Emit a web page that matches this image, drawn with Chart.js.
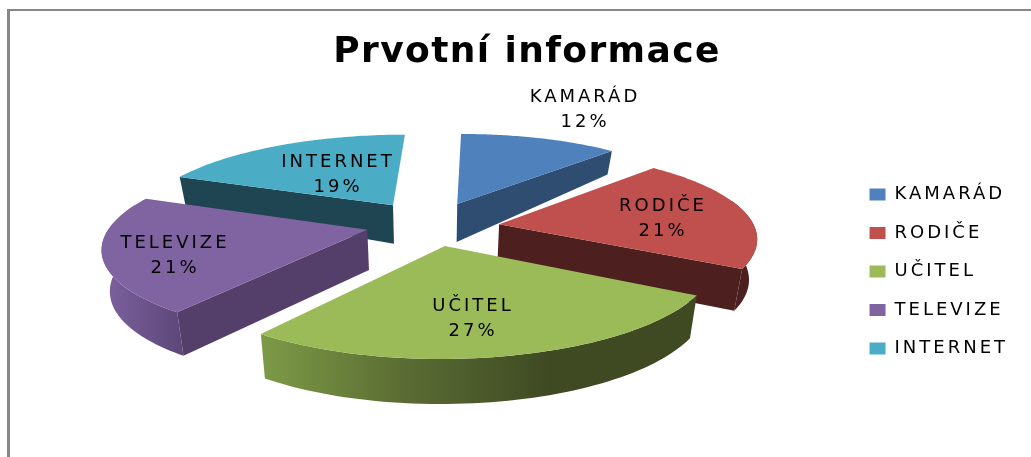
<!DOCTYPE html>
<html lang="cs">
<head>
  <meta charset="UTF-8">
  <title>Prvotní informace</title>
  <script src="https://cdn.jsdelivr.net/npm/chart.js"></script>
  <style>
    html, body { margin: 0; padding: 0; background: #fff; }
    .wrap { position: relative; width: 1031px; height: 457px; overflow: hidden; }
    .frame { position: absolute; left: 7px; top: 9px; right: -5px; bottom: -5px; border: 3px solid #878787; border-top-width: 2px; }
    canvas { position: absolute; left: 0; top: 0; }
  </style>
</head>
<body>
  <div class="wrap">
    <div class="frame"></div>
    <canvas id="pieChart" width="1031" height="457"></canvas>
  </div>

  <script>
    const titleText = 'Prvotní informace';
    const categories = ['KAMARÁD', 'RODIČE', 'UČITEL', 'TELEVIZE', 'INTERNET'];
    const shares = [12, 21, 27, 21, 19];

    const faceColors = ['#4f81bd', '#c0504d', '#9bbb59', '#8064a2', '#4bacc6'];
    const wallColors = ['#2f4d71', '#4d1f1e', '#3f4a23', '#533f6a', '#1e4551'];
    // rim shading left to right, only the two slices that show a gradient differ
    const rimStops = [
      ['#2f4d71', '#2f4d71'],
      ['#4d1f1e', '#4d1f1e'],
      ['#7c9946', '#5a6c33', '#3f4a23', '#3f4a23'],
      ['#7a5f9b', '#5c4778'],
      ['#1e4551', '#1e4551']
    ];
    // centre of each data label on the page
    const labelX = [585, 663, 473, 175, 338];
    const labelY = [97, 206, 306, 243, 162];
    // small nudges per slice, the source view is not a clean projection
    const nudgeX = [0, 0, 0, 4, -2];
    const nudgeY = [1, 4, -2, -1, 0];

    // the tilted view
    const view = { cx: 431, cy: 224, r: 256, k: 87, d: 6.4, skew: 7, shrink: 0.975, explode: 0.27 };

    function wallDepth(v) {
      return v < -0.2 ? 39 + (v + 0.2) * 20 : 40 + 4 * v;
    }

    function project(u, v, low) {
      const f = view.d / (view.d - v);
      const x = view.cx + u * view.r * f;
      return {
        x: view.cx + (x - view.cx) * (low ? view.shrink : 1) - view.skew * v,
        y: view.cy + v * view.k * f + (low ? wallDepth(v) : 0)
      };
    }

    function pathOf(ctx, pts, dx, dy) {
      ctx.beginPath();
      pts.forEach((p, i) => i ? ctx.lineTo(p.x + dx, p.y + dy) : ctx.moveTo(p.x + dx, p.y + dy));
      ctx.closePath();
    }

    function spaceText(box, ctx, px) {
      const draw = box.draw;
      box.draw = function () {
        ctx.letterSpacing = px;
        draw.call(box);
        ctx.letterSpacing = '0px';
      };
    }

    // uses the angles Chart.js worked out for each arc
    const tiltedPie = {
      id: 'tiltedPie',
      beforeLayout(chart) {
        // so the legend box is measured with the spaced text
        chart.ctx.letterSpacing = '3px';
      },
      afterLayout(chart) {
        chart.ctx.letterSpacing = '0px';
      },
      beforeDatasetDraw(chart, args) {
        const ctx = chart.ctx;
        const arcs = chart.getDatasetMeta(args.index).data.map((arc, i) => {
          const { startAngle, endAngle } = arc.getProps(['startAngle', 'endAngle']);
          return { i, startAngle, endAngle, mid: (startAngle + endAngle) / 2 };
        });
        arcs.sort((a, b) => Math.sin(a.mid) - Math.sin(b.mid));

        arcs.forEach(a => {
          const dx = nudgeX[a.i], dy = nudgeY[a.i];
          const ou = Math.cos(a.mid) * view.explode;
          const ov = Math.sin(a.mid) * view.explode;
          const rimTop = [], rimLow = [], top = [];
          const steps = 60;
          for (let s = 0; s <= steps; s++) {
            const t = a.startAngle + (a.endAngle - a.startAngle) * s / steps;
            const u = ou + Math.cos(t), v = ov + Math.sin(t);
            top.push(project(u, v, false));
            // a bit past the widest point so the rim closes under the face
            if (Math.sin(t) > -0.3) {
              rimTop.push(project(u, v, false));
              rimLow.push(project(u, v, true));
            }
          }
          const apexTop = project(ou, ov, false);
          const apexLow = project(ou, ov, true);

          // radial walls that face the viewer
          ctx.fillStyle = wallColors[a.i];
          if (Math.cos(a.startAngle) < -0.001) {
            const u = ou + Math.cos(a.startAngle), v = ov + Math.sin(a.startAngle);
            pathOf(ctx, [apexTop, project(u, v, false), project(u, v, true), apexLow], dx, dy);
            ctx.fill();
          }
          if (Math.cos(a.endAngle) > 0.001) {
            const u = ou + Math.cos(a.endAngle), v = ov + Math.sin(a.endAngle);
            pathOf(ctx, [apexTop, project(u, v, false), project(u, v, true), apexLow], dx, dy);
            ctx.fill();
          }

          // outer rim, the two back slices do not show one
          if (rimTop.length > 1 && a.i !== 0 && a.i !== 4) {
            const xs = rimLow.map(p => p.x + dx);
            const grad = ctx.createLinearGradient(Math.min(...xs), 0, Math.max(...xs), 0);
            const stops = rimStops[a.i];
            stops.forEach((c, n) => grad.addColorStop(n / (stops.length - 1), c));
            ctx.fillStyle = grad;
            pathOf(ctx, rimTop.concat(rimLow.slice().reverse()), dx, dy);
            ctx.fill();
          }

          // top face
          ctx.fillStyle = faceColors[a.i];
          pathOf(ctx, [apexTop].concat(top), dx, dy);
          ctx.fill();
        });
        return false;
      },
      afterDatasetsDraw(chart) {
        const ctx = chart.ctx;
        ctx.save();
        ctx.font = '18px "DejaVu Sans"';
        ctx.letterSpacing = '3px';
        ctx.fillStyle = '#000';
        ctx.textAlign = 'center';
        ctx.textBaseline = 'middle';
        categories.forEach((name, i) => {
          ctx.fillText(name, labelX[i], labelY[i]);
          ctx.fillText(shares[i] + '%', labelX[i], labelY[i] + 25);
        });
        ctx.restore();
      }
    };

    const chart = new Chart(document.getElementById('pieChart'), {
      type: 'pie',
      data: {
        labels: categories,
        datasets: [{ data: shares, backgroundColor: faceColors, borderWidth: 0 }]
      },
      plugins: [tiltedPie],
      options: {
        responsive: false,
        animation: false,
        layout: { padding: { left: 36, right: 13, top: 0, bottom: 79 } },
        plugins: {
          tooltip: { enabled: false },
          title: {
            display: true,
            text: titleText,
            color: '#000',
            font: { family: '"DejaVu Sans"', size: 36, weight: 'bold' },
            padding: { top: 31, bottom: 10 }
          },
          legend: {
            position: 'right',
            align: 'end',
            labels: {
              color: '#000',
              font: { family: '"DejaVu Sans"', size: 18 },
              boxWidth: 16,
              boxHeight: 12,
              padding: 20.5
            }
          }
        }
      }
    });

    // the reference text is stretched wide, letter spacing gets close to that
    spaceText(chart.legend, chart.ctx, '3px');
    spaceText(chart.titleBlock, chart.ctx, '1.4px');
    chart.draw();
  </script>
</body>
</html>
